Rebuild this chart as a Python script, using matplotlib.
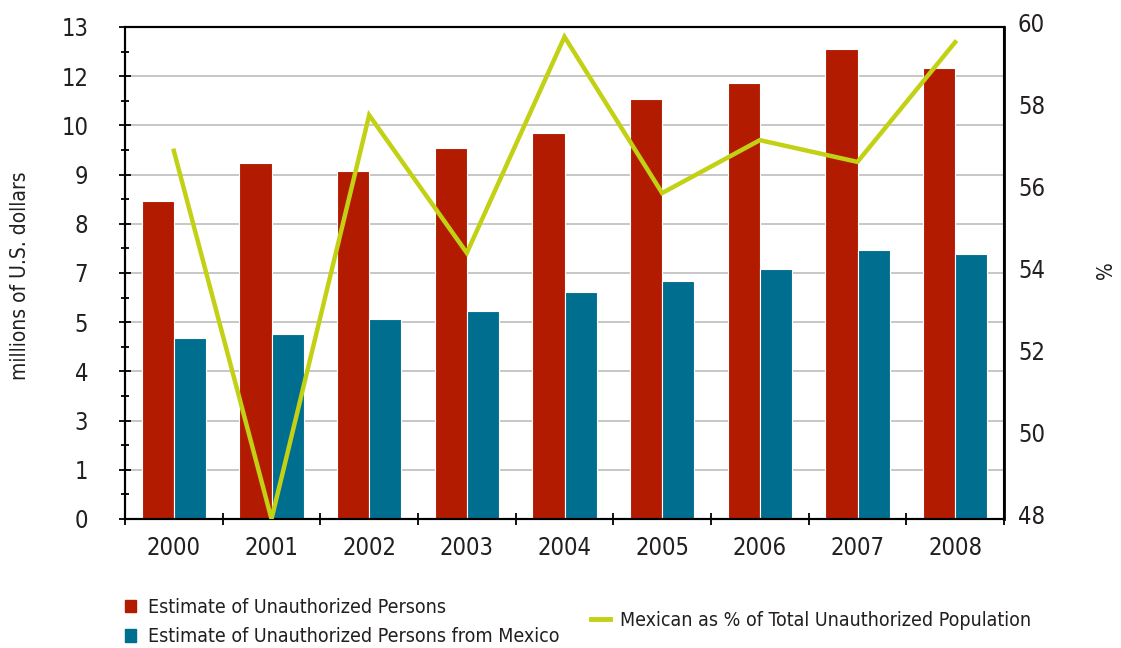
import matplotlib.pyplot as plt
import matplotlib.transforms as mtransforms
import matplotlib.font_manager as fm
from matplotlib.patches import Patch
from matplotlib.lines import Line2D
import numpy as np

# pick a narrow font if one is installed
fonts = fm.fontManager.ttflist
names = {f.name for f in fonts}
if 'Liberation Sans Narrow' in names:
    plt.rcParams['font.family'] = ['Liberation Sans Narrow', 'DejaVu Sans']
elif any(f.name == 'DejaVu Sans' and 'condensed' in str(f.stretch) for f in fonts):
    plt.rcParams['font.family'] = ['DejaVu Sans']
    plt.rcParams['font.stretch'] = 'condensed'
else:
    plt.rcParams['font.family'] = ['Roboto', 'DejaVu Sans']

# data
years = ['2000', '2001', '2002', '2003', '2004', '2005', '2006', '2007', '2008']
total = [8.40, 9.41, 9.19, 9.80, 10.20, 11.10, 11.52, 12.42, 11.92]
mexico = [4.78, 4.89, 5.28, 5.50, 6.00, 6.29, 6.61, 7.11, 7.00]
share = [56.98, 48.0, 57.85, 54.49, 59.76, 55.95, 57.24, 56.71, 59.63]
left_labels = ['0', '1', '3', '4', '5', '7', '8', '9', '10', '12', '13']
right_ticks = [48, 50, 52, 54, 56, 58, 60]

red = '#B31B00'
blue = '#006E8F'
green = '#C2D114'
txt = '#231F20'

fig = plt.figure(figsize=(11.21, 6.48), dpi=100)
ax = fig.add_axes([125/1121, 1-519/648, 879/1121, 492/648])
x = np.arange(len(years))
w = 0.33
ax.bar(x - w/2, total, w, color=red, edgecolor='white', linewidth=0.8, zorder=2)
ax.bar(x + w/2, mexico, w, color=blue, edgecolor='white', linewidth=0.8, zorder=2)

ax.set_xlim(-0.5, len(years) - 0.5)
ax.set_ylim(0, 13)
lt = np.linspace(0, 13, 11)
ax.set_yticks(lt)
ax.set_yticklabels(left_labels)
ax.set_yticks(lt[:-1] + 0.65, minor=True)
ax.set_xticks(x)
ax.set_xticklabels(years)
ax.set_xticks(np.arange(len(years) + 1) - 0.5, minor=True)
ax.tick_params(axis='y', which='major', direction='inout', length=9, width=1.3,
               labelsize=17, pad=22, colors='black', labelcolor=txt)
ax.tick_params(axis='y', which='minor', direction='inout', length=6, width=1.3)
ax.tick_params(axis='x', which='major', length=0, labelsize=17, pad=12, labelcolor=txt)
ax.tick_params(axis='x', which='minor', direction='inout', length=9, width=1.3)
ax.grid(axis='y', color='#bdbdbd', linewidth=1.2, zorder=0)
ax.set_axisbelow(True)
for s in ax.spines.values():
    s.set_linewidth(1.5)
    s.set_color('black')

ax2 = ax.twinx()
ax2.plot(x, share, color=green, linewidth=3.2, solid_joinstyle='miter', zorder=3)
ax2.set_ylim(48, 60)
ax2.set_yticks(right_ticks)
ax2.tick_params(axis='y', length=0, labelsize=17, pad=10, labelcolor=txt)
shift = mtransforms.ScaledTranslation(0, 5/100, fig.dpi_scale_trans)
for lab in ax2.get_yticklabels():
    lab.set_transform(lab.get_transform() + shift)
for s in ax2.spines.values():
    s.set_linewidth(1.5)
ax2.spines['right'].set_linewidth(2)

fig.text(20/1121, 1-276/648, 'millions of U.S. dollars', rotation=90,
         ha='center', va='center', fontsize=15, color=txt)
fig.text(1106/1121, 1-270/648, '%', rotation=90,
         ha='center', va='center', fontsize=15, color=txt)

h1 = [Patch(color=red), Patch(color=blue)]
fig.legend(h1, ['Estimate of Unauthorized Persons',
                'Estimate of Unauthorized Persons from Mexico'],
           loc='center left', bbox_to_anchor=(107/1121, 1-622/648), frameon=False,
           fontsize=14, handlelength=0.6, handleheight=0.6, handletextpad=0.6,
           labelspacing=0.55, labelcolor=txt)
h2 = [Line2D([0], [0], color=green, linewidth=3.5)]
fig.legend(h2, ['Mexican as % of Total Unauthorized Population'],
           loc='center left', bbox_to_anchor=(573/1121, 1-620/648), frameon=False,
           fontsize=14, handlelength=1.0, handletextpad=0.5, labelcolor=txt)

fig.savefig('out.png', dpi=100)
